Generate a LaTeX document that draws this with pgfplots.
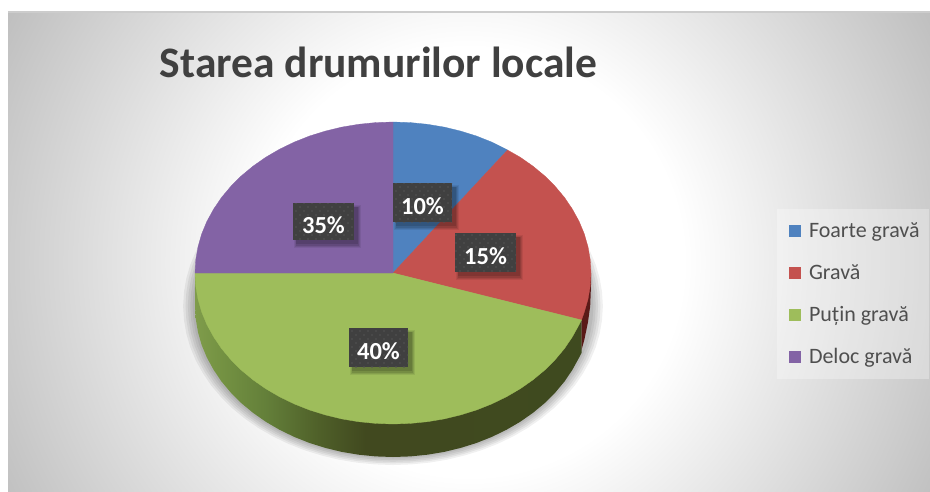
\documentclass[border=0pt]{standalone}
\usepackage{fontspec}
\setmainfont{Carlito}
\usepackage{pgfplots}
\usepackage{pgfplotstable}
\pgfplotsset{compat=1.18}
\usetikzlibrary{patterns}
\definecolor{cblue}{HTML}{4F82BF}
\definecolor{cred}{HTML}{C4524F}
\definecolor{cgreen}{HTML}{9EBD5B}
\definecolor{cpurple}{HTML}{8363A5}
\definecolor{boxc}{HTML}{404040}
\definecolor{dotc}{HTML}{545454}
\definecolor{bgout}{HTML}{BFBFBF}
\definecolor{sa}{HTML}{7F9C4B}
\definecolor{sb}{HTML}{759343}
\definecolor{sc}{HTML}{64803A}
\definecolor{sd}{HTML}{4F6029}
\definecolor{se}{HTML}{41491F}
\definecolor{sf}{HTML}{3F4A1F}
\definecolor{dkred}{HTML}{5A1A18}
\pgfdeclareradialshading{bgglow}{\pgfpointorigin}{color(0bp)=(white); color(10.2bp)=(white); color(25bp)=(bgout); color(50bp)=(bgout)}
\pgfdeclarehorizontalshading{sidegreen}{100bp}{color(0bp)=(sa); color(25bp)=(sa); color(28bp)=(sb); color(34bp)=(sc); color(41bp)=(sd); color(47bp)=(se); color(75bp)=(sf); color(100bp)=(sf)}
\pgfdeclarepatternformonly{softdots}{\pgfqpoint{-1pt}{-1pt}}{\pgfqpoint{9pt}{9pt}}{\pgfqpoint{8pt}{8pt}}{%
  \pgfpathcircle{\pgfqpoint{0pt}{0pt}}{0.9pt}\pgfusepath{fill}
  \pgfpathcircle{\pgfqpoint{4pt}{4pt}}{0.9pt}\pgfusepath{fill}}
\newcommand{\lab}[5]{%
  \fill[black,opacity=.07] (axis cs:#1+1,#2+2) rectangle (axis cs:#3+7,#4+8);
  \fill[black,opacity=.09] (axis cs:#1+2,#2+3) rectangle (axis cs:#3+6,#4+7);
  \fill[black,opacity=.11] (axis cs:#1+3,#2+4) rectangle (axis cs:#3+5,#4+6);
  \fill[black,opacity=.12] (axis cs:#1+3,#2+4) rectangle (axis cs:#3+4,#4+4);
  \fill[boxc] (axis cs:#1,#2) rectangle (axis cs:#3,#4);
  \fill[pattern=softdots,pattern color=dotc] (axis cs:#1,#2) rectangle (axis cs:#3,#4);
  \node[text=white,font=\fontsize{24.5}{26}\selectfont\bfseries,inner sep=0pt,anchor=center] at (axis cs:{(#1+#3)/2},{(#2+#4)/2+3.5}) {#5};}
\pgfplotstableread{
x y
393 122
410.3 122.6
427.4 124.3
444.2 127.1
460.7 131.1
476.7 136.1
492 142.2
506.6 149.3
520.3 157.3
533 166.2
544.7 175.9
555.2 186.4
564.5 197.5
572.4 209.2
579.1 221.4
584.3 233.9
588 246.8
590.2 259.8
591 273
590.2 286.2
588 299.2
584.3 312.1
579.1 324.6
572.4 336.8
564.5 348.5
555.2 359.6
544.7 370.1
533 379.8
520.3 388.7
506.6 396.7
492 403.8
476.7 409.9
460.7 414.9
444.2 418.9
427.4 421.7
410.3 423.4
393 424
375.7 423.4
358.6 421.7
341.8 418.9
325.3 414.9
309.3 409.9
294 403.8
279.4 396.7
265.7 388.7
253 379.8
241.3 370.1
230.8 359.6
221.5 348.5
213.6 336.8
206.9 324.6
201.7 312.1
198 299.2
195.8 286.2
195 273
195.8 259.8
198 246.8
201.7 233.9
206.9 221.4
213.6 209.2
221.5 197.5
230.8 186.4
241.3 175.9
253 166.2
265.7 157.3
279.4 149.3
294 142.2
309.3 136.1
325.3 131.1
341.8 127.1
358.6 124.3
375.7 122.6
}\pieoutline
\begin{document}
\begin{tikzpicture}
\useasboundingbox (0,0) rectangle (930pt,491pt);
\begin{scope}
\clip (8pt,0pt) rectangle (930pt,479pt);
\shade[overlay,shading=bgglow] (469pt,229pt) circle[radius=525pt];
\end{scope}
\fill[white!80!black] (8pt,478pt) rectangle (930pt,480pt);
\fill[white,opacity=.3] (777pt,112pt) rectangle (929pt,282pt);
\begin{axis}[
  at={(0pt,0pt)},anchor=south west,
  scale only axis,width=930pt,height=491pt,
  xmin=0,xmax=930,ymin=0,ymax=491,y dir=reverse,
  hide axis,clip=false,
  legend style={at={(axis cs:789,221.5)},anchor=north west,draw=none,fill=none,inner sep=0pt,outer sep=0pt,
    font=\fontsize{22}{24}\selectfont,text=black!69,
    nodes={inner sep=0pt,text height=16pt,text depth=3pt,anchor=west},
    /tikz/row sep=23pt,/tikz/column sep=8pt},
  legend cell align=left,
  legend image code/.code={\fill[#1,draw=none] (0pt,-6pt) rectangle (12pt,6pt);},
]
% soft shadow under the pie
\addplot[forget plot,draw=none,fill=black,fill opacity=.06] table[x expr=393+(\thisrow{x}-393)*1.060,y expr=306+(\thisrow{y}-273)*1.053] {\pieoutline} -- cycle;
\addplot[forget plot,draw=none,fill=black,fill opacity=.06] table[x expr=393+(\thisrow{x}-393)*1.048,y expr=306+(\thisrow{y}-273)*1.042] {\pieoutline} -- cycle;
\addplot[forget plot,draw=none,fill=black,fill opacity=.06] table[x expr=393+(\thisrow{x}-393)*1.036,y expr=306+(\thisrow{y}-273)*1.032] {\pieoutline} -- cycle;
\addplot[forget plot,draw=none,fill=black,fill opacity=.06] table[x expr=393+(\thisrow{x}-393)*1.024,y expr=306+(\thisrow{y}-273)*1.021] {\pieoutline} -- cycle;
\addplot[forget plot,draw=none,fill=black,fill opacity=.06] table[x expr=393+(\thisrow{x}-393)*1.012,y expr=306+(\thisrow{y}-273)*1.010] {\pieoutline} -- cycle;
% side wall
\addplot[forget plot,draw=none,fill=none,shade,shading=sidegreen] coordinates {
(195,273) (195,306) (195.8,319.2) (198,332.2) (201.7,345.1) (206.9,357.6) (213.6,369.8) (221.5,381.5) (230.8,392.6) (241.3,403.1) (253,412.8) (265.7,421.7) (279.4,429.7) (294,436.8) (309.3,442.9) (325.3,447.9) (341.8,451.9) (358.6,454.7) (375.7,456.4) (393,457) (410.3,456.4) (427.4,454.7) (444.2,451.9) (460.7,447.9) (476.7,442.9) (492,436.8) (506.6,429.7) (520.3,421.7) (533,412.8) (544.7,403.1) (555.2,392.6) (564.5,381.5) (572.4,369.8) (579.1,357.6) (581.5,353) (581.5,320)} -- cycle;
\addplot[forget plot,draw=none,fill=dkred] coordinates {(581.5,320) (581.5,350) (584.3,340) (588,322) (590.2,306) (591,285) (591,273)} -- cycle;
% the four slices
\addplot[draw=cblue,line width=.3pt,fill=cblue] coordinates {(393,273) (393,122) (410.3,122.6) (427.4,124.3) (444.2,127.1) (460.7,131.1) (476.7,136.1) (492,142.2) (507.5,150)} -- cycle;
\addlegendentry{Foarte gravă}
\addplot[draw=cred,line width=.3pt,fill=cred] coordinates {(393,273) (507.5,150) (520.3,157.3) (533,166.2) (544.7,175.9) (555.2,186.4) (564.5,197.5) (572.4,209.2) (579.1,221.4) (584.3,233.9) (588,246.8) (590.2,259.8) (591,273) (590.2,286.2) (588,299.2) (584.3,312.1) (581.5,320)} -- cycle;
\addlegendentry{Gravă}
\addplot[draw=cgreen,line width=.3pt,fill=cgreen] coordinates {(393,273) (581.5,320) (579.1,324.6) (572.4,336.8) (564.5,348.5) (555.2,359.6) (544.7,370.1) (533,379.8) (520.3,388.7) (506.6,396.7) (492,403.8) (476.7,409.9) (460.7,414.9) (444.2,418.9) (427.4,421.7) (410.3,423.4) (393,424) (375.7,423.4) (358.6,421.7) (341.8,418.9) (325.3,414.9) (309.3,409.9) (294,403.8) (279.4,396.7) (265.7,388.7) (253,379.8) (241.3,370.1) (230.8,359.6) (221.5,348.5) (213.6,336.8) (206.9,324.6) (201.7,312.1) (198,299.2) (195.8,286.2) (195,273)} -- cycle;
\addlegendentry{Puțin gravă}
\addplot[draw=cpurple,line width=.3pt,fill=cpurple] coordinates {(393,273) (195,273) (195.8,259.8) (198,246.8) (201.7,233.9) (206.9,221.4) (213.6,209.2) (221.5,197.5) (230.8,186.4) (241.3,175.9) (253,166.2) (265.7,157.3) (279.4,149.3) (294,142.2) (309.3,136.1) (325.3,131.1) (341.8,127.1) (358.6,124.3) (375.7,122.6) (393,122)} -- cycle;
\addlegendentry{Deloc gravă}
\lab{393}{183}{452}{222}{10\%}
\lab{455}{233}{516}{272}{15\%}
\lab{293}{203}{354}{240}{35\%}
\lab{349}{328}{408}{367}{40\%}
\node[font=\fontsize{43.5}{46}\selectfont\bfseries,text=black!75,anchor=base,inner sep=0pt] at (axis cs:378.5,77.5) {Starea drumurilor locale};
\end{axis}
\end{tikzpicture}
\end{document}
